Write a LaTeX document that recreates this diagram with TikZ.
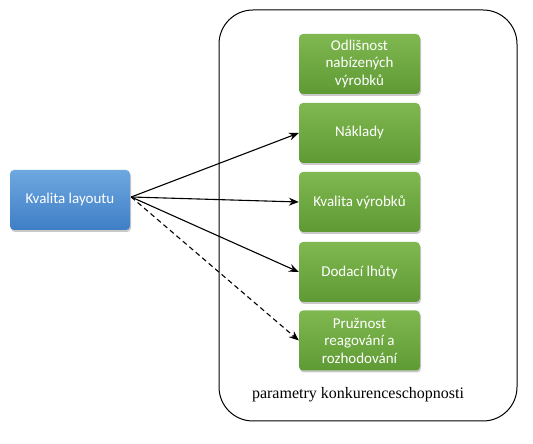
\documentclass[tikz,border=0pt]{standalone}
\usepackage{fontspec}
\setmainfont{Liberation Serif}
\newfontfamily\calfont{Carlito}
\usetikzlibrary{arrows.meta,shadows}
\definecolor{gtop}{HTML}{80B850}
\definecolor{gbot}{HTML}{5E9A34}
\definecolor{btop}{HTML}{6EA8E0}
\definecolor{bbot}{HTML}{3F7EC6}
\tikzset{
  gbox/.style={rounded corners=4pt, minimum width=121pt, minimum height=60pt,
    top color=gtop, bottom color=gbot, draw=none, text=white, align=center,
    font=\calfont\fontsize{15pt}{17.5pt}\selectfont, inner sep=0pt,
    drop shadow={shadow xshift=1pt, shadow yshift=-2pt, opacity=0.35, fill=black!60}},
  bbox/.style={gbox, top color=btop, bottom color=bbot, minimum width=120pt},
  conn/.style={-{Stealth[length=10pt,width=8pt,inset=3.5pt]}, line width=1.1pt},
  frame/.style={draw, line width=1pt, rounded corners=34pt}
}
\begin{document}
\begin{tikzpicture}[x=1pt,y=1pt]
\useasboundingbox (0,0) rectangle (533,444);
\fill[white] (0,0) rectangle (533,444);
\draw[frame] (219,23) rectangle (517,434);
\node[bbox] (k) at (70,244) {Kvalita layoutu};
\node[gbox] (g1) at (359.5,380) {Odlišnost\\nabízených\\výrobků};
\node[gbox] (g2) at (359.5,311) {Náklady};
\node[gbox] (g3) at (359.5,242) {Kvalita výrobků};
\node[gbox] (g4) at (359.5,172) {Dodací lhůty};
\node[gbox] (g5) at (359.5,103.5) {Pružnost\\reagování a\\rozhodování};
\node[font=\fontsize{16pt}{18pt}\selectfont] (lab) at (358,49) {parametry konkurenceschopnosti};
\coordinate (s) at ([xshift=1pt,yshift=3pt]k.east);
\draw[conn] (s) -- (g2.west);
\draw[conn] (s) -- (g3.west);
\draw[conn] (s) -- (g4.west);
\draw[conn, dash pattern=on 5pt off 3.5pt] (s) -- (g5.west);
\end{tikzpicture}
\end{document}
